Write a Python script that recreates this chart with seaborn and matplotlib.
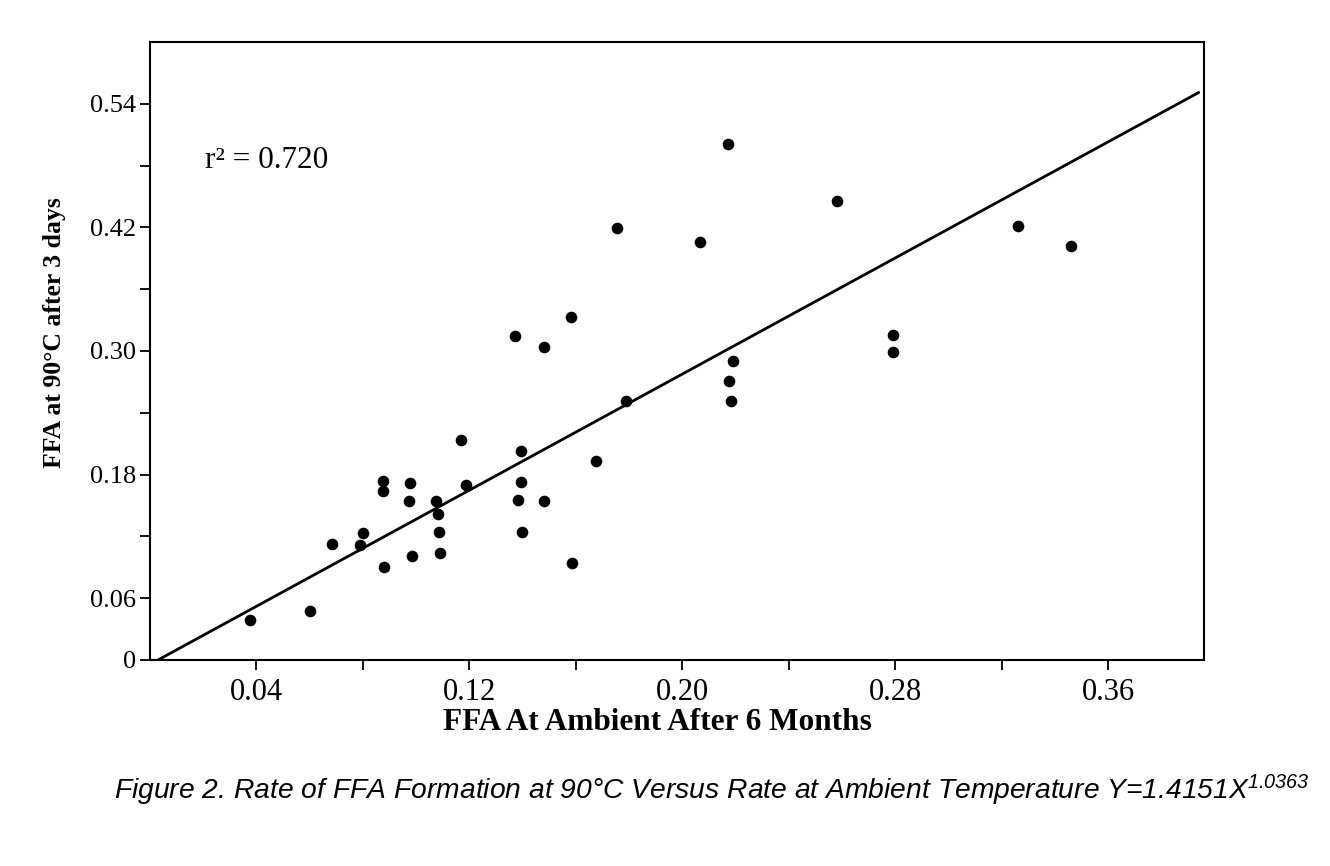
import matplotlib
matplotlib.use("Agg")
import matplotlib.pyplot as plt
import seaborn as sns
import pandas as pd

# FFA at ambient after 6 months (x) vs FFA at 90C after 3 days (y)
ffa_ambient = [0.0376, 0.0602, 0.0684, 0.0801, 0.0790, 0.0876, 0.0876, 0.0880,
               0.0978, 0.0974, 0.0985, 0.1076, 0.1083, 0.1087, 0.1091, 0.1170,
               0.1188, 0.1373, 0.1392, 0.1392, 0.1384, 0.1399, 0.1482, 0.1482,
               0.1580, 0.1587, 0.1677, 0.1790, 0.1753, 0.2068, 0.2170, 0.2189,
               0.2177, 0.2181, 0.2580, 0.2790, 0.2790, 0.3261, 0.3460]
ffa_90c = [0.039, 0.048, 0.113, 0.123, 0.112, 0.174, 0.164, 0.090,
           0.172, 0.154, 0.101, 0.154, 0.142, 0.124, 0.104, 0.214,
           0.170, 0.315, 0.203, 0.173, 0.155, 0.124, 0.304, 0.154,
           0.333, 0.094, 0.193, 0.251, 0.419, 0.406, 0.501, 0.290,
           0.271, 0.251, 0.446, 0.316, 0.299, 0.421, 0.402]

# fitted curve, end points
fit_x = [0.003, 0.394]
fit_y = [0.0, 0.551]

x_ticks = [0.04, 0.08, 0.12, 0.16, 0.20, 0.24, 0.28, 0.32, 0.36]
x_labels = ["0.04", "", "0.12", "", "0.20", "", "0.28", "", "0.36"]
y_ticks = [0, 0.06, 0.12, 0.18, 0.24, 0.30, 0.36, 0.42, 0.48, 0.54]
y_labels = ["0", "0.06", "", "0.18", "", "0.30", "", "0.42", "", "0.54"]

df = pd.DataFrame({"x": ffa_ambient, "y": ffa_90c})

sns.set_style("ticks")
plt.rcParams["font.family"] = ["Liberation Serif", "DejaVu Serif"]
plt.rcParams["text.color"] = "black"
plt.rcParams["axes.labelcolor"] = "black"
plt.rcParams["mathtext.fontset"] = "custom"
plt.rcParams["mathtext.rm"] = "Liberation Sans:italic"
plt.rcParams["mathtext.it"] = "Liberation Sans:italic"

fig = plt.figure(figsize=(13.3, 8.66), dpi=100)
ax = fig.add_axes([0.1128, 0.2379, 0.7925, 0.7136])

sns.scatterplot(data=df, x="x", y="y", ax=ax, color="black", s=70,
                edgecolor="black", linewidth=0, legend=False)
sns.lineplot(x=fit_x, y=fit_y, ax=ax, color="black", linewidth=2, sort=False)

ax.set_xlim(0, 0.396)
ax.set_ylim(0, 0.60)
ax.set_xticks(x_ticks)
ax.set_xticklabels(x_labels, fontsize=22)
ax.set_yticks(y_ticks)
ax.set_yticklabels(y_labels, fontsize=19)
ax.tick_params(direction="out", length=7, width=1.3, colors="black")
ax.tick_params(axis="x", pad=6)
ax.tick_params(axis="y", pad=3)
for sp in ax.spines.values():
    sp.set_visible(True)
    sp.set_linewidth(1.5)
    sp.set_color("black")

ax.set_xlabel("FFA At Ambient After 6 Months", fontsize=22.5, fontweight="bold")
ax.xaxis.set_label_coords(0.481, -0.078)
ax.set_ylabel("FFA at 90°C after 3 days", fontsize=18.5, fontweight="bold")
ax.yaxis.set_label_coords(-0.08, 0.53)

ax.text(0.0207, 0.485, "r² = 0.720", fontsize=22.5, va="center", ha="left")

fig.text(0.535, 0.087,
         "Figure 2. Rate of FFA Formation at 90°C Versus Rate at Ambient Temperature "
         "Y=1.4151X$^{1.0363}$",
         fontsize=20.3, family="Liberation Sans", style="italic",
         ha="center", va="center")

fig.savefig("out.png", dpi=100)
